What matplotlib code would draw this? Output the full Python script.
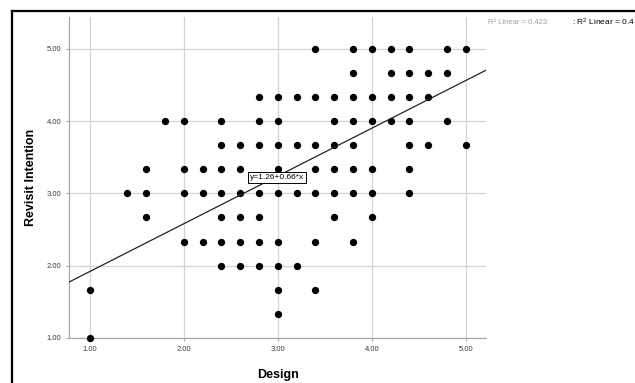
import matplotlib
matplotlib.use("Agg")
import matplotlib.pyplot as plt
from matplotlib.lines import Line2D

plt.rcParams['font.family'] = ['Liberation Sans', 'DejaVu Sans']
plt.rcParams['mathtext.default'] = 'regular'

# Revisit Intention levels and the Design scores observed at each level
level_500 = [3.4, 3.8, 4.0, 4.2, 4.4, 4.8, 5.0]
level_467 = [3.8, 4.2, 4.4, 4.6, 4.8]
level_433 = [2.8, 3.0, 3.2, 3.4, 3.6, 3.8, 4.0, 4.2, 4.4, 4.6]
level_400 = [1.8, 2.0, 2.4, 2.8, 3.0, 3.6, 3.8, 4.0, 4.2, 4.4, 4.8]
level_367 = [2.4, 2.6, 2.8, 3.0, 3.2, 3.4, 3.6, 3.8, 4.4, 4.6, 5.0]
level_333 = [1.6, 2.0, 2.2, 2.4, 2.6, 3.0, 3.4, 3.6, 3.8, 4.0, 4.4]
level_300 = [1.4, 1.6, 2.0, 2.2, 2.4, 2.6, 2.8, 3.0, 3.2, 3.4, 3.6, 3.8, 4.0, 4.4]
level_267 = [1.6, 2.4, 2.6, 2.8, 3.6, 4.0]
level_233 = [2.0, 2.2, 2.4, 2.6, 2.8, 3.0, 3.4, 3.8]
level_200 = [2.4, 2.6, 2.8, 3.0, 3.2]
level_167 = [1.0, 3.0, 3.4]
level_133 = [3.0]
level_100 = [1.0]

levels = {5.0: level_500, 14 / 3: level_467, 13 / 3: level_433, 4.0: level_400,
          11 / 3: level_367, 10 / 3: level_333, 3.0: level_300, 8 / 3: level_267,
          7 / 3: level_233, 2.0: level_200, 5 / 3: level_167, 4 / 3: level_133,
          1.0: level_100}

design = []
revisit = []
for yv, xs in levels.items():
    design += xs
    revisit += [yv] * len(xs)

intercept = 1.26
slope = 0.66
r2 = 0.423
ticks = [1.0, 2.0, 3.0, 4.0, 5.0]

fig = plt.figure(figsize=(6.35, 3.83), dpi=100)
ax = fig.add_axes([0.109, 0.1175, 0.657, 0.8385])

ax.set_xlim(0.78, 5.22)
ax.set_ylim(1.0, 5.44)
ax.set_xticks(ticks)
ax.set_yticks(ticks)
ax.set_xticklabels([f"{t:.2f}" for t in ticks])
ax.set_yticklabels([f"{t:.2f}" for t in ticks])
ax.grid(True, color='#d4d4d4', linewidth=0.9)
ax.set_axisbelow(True)
for side in ['top', 'right']:
    ax.spines[side].set_visible(False)
for side in ['left', 'bottom']:
    ax.spines[side].set_color('#a8a8a8')
    ax.spines[side].set_linewidth(0.9)
ax.tick_params(length=2.5, width=0.8, color='#a8a8a8', labelsize=5.5,
               labelcolor='#3a3a3a', pad=3)

ax.scatter(design, revisit, s=18, color='black', zorder=3, clip_on=False)
ax.axline((0, intercept), slope=slope, color='#222222', linewidth=0.9, zorder=4)

ax.text(2.99, 3.22, f"y={intercept:.2f}+{slope:.2f}*x", fontsize=6, ha='center',
        va='center', zorder=5,
        bbox=dict(boxstyle='square,pad=0.2', facecolor='white', edgecolor='black',
                  linewidth=0.7))

ax.set_xlabel("Design", fontsize=9, fontweight='bold')
ax.set_ylabel("Revisit Intention", fontsize=9, fontweight='bold')
ax.xaxis.set_label_coords(0.5, -0.095)
ax.yaxis.set_label_coords(-0.078, 0.5)

fig.text(488 / 635, 1 - 22 / 383, f"R\u00b2 Linear = {r2:.3f}", fontsize=5.5,
         color='#a0a0a0', va='center')
fig.text(572 / 635, 1 - 22 / 383, r": R$^{2}$ Linear = 0.4", fontsize=6,
         color='black', va='center')

# outer frame like the output viewer
y_top = 1 - 11 / 383
x_left = 12 / 635
fig.add_artist(Line2D([x_left, 1], [y_top, y_top], color='black', linewidth=1.6))
fig.add_artist(Line2D([x_left, x_left], [0, y_top], color='black', linewidth=1.6))

fig.savefig("out.png", dpi=100)
